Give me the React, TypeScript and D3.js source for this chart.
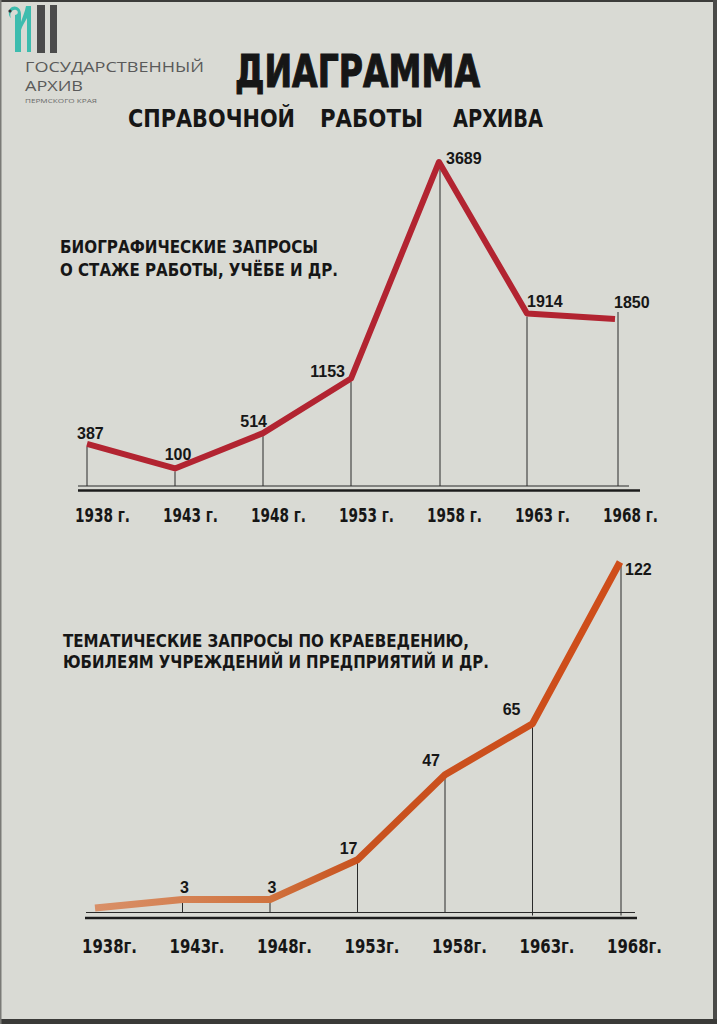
import React from "react";
import * as d3 from "d3";

// ---------- data ----------
const years = [1938, 1943, 1948, 1953, 1958, 1963, 1968];
const topTickLabels = ["1938 г.", "1943 г.", "1948 г.", "1953 г.", "1958 г.", "1963 г.", "1968 г."];
const bottomTickLabels = ["1938г.", "1943г.", "1948г.", "1953г.", "1958г.", "1963г.", "1968г."];
const biographicalRequests = [387, 100, 514, 1153, 3689, 1914, 1850];
const thematicRequests = [0, 3, 3, 17, 47, 65, 122];
const thematicLabelled = [false, true, true, true, true, true, true];

const titleText = "ДИАГРАММА";
const subtitleWords = ["СПРАВОЧНОЙ", "РАБОТЫ", "АРХИВА"];
const topCaption = ["БИОГРАФИЧЕСКИЕ ЗАПРОСЫ", "О СТАЖЕ РАБОТЫ, УЧЁБЕ И ДР."];
const bottomCaption = ["ТЕМАТИЧЕСКИЕ ЗАПРОСЫ ПО КРАЕВЕДЕНИЮ,", "ЮБИЛЕЯМ УЧРЕЖДЕНИЙ И ПРЕДПРИЯТИЙ И ДР."];

// ---------- style / layout ----------
const W = 717;
const H = 1024;
const BG = "#d9dad4";
const INK = "#161616";
const HAND = "'DejaVu Sans', 'Liberation Sans', sans-serif";
const NUM = "'Liberation Sans', 'DejaVu Sans', sans-serif";

// label placement (dx, dy, anchor) relative to each point
const topLabelPlace: [number, number, string][] = [
  [-10, -5, "start"], [3, -8, "middle"], [4, -6, "end"], [-6, -2, "end"],
  [7, 2, "start"], [0, -7, "start"], [-1, -11, "start"],
];
const bottomLabelPlace: [number, number, string][] = [
  [0, -6, "middle"], [2, -6, "middle"], [2, -6, "middle"], [0, -6, "end"],
  [-5, -9, "end"], [-12, -9, "end"], [5, 13, "start"],
];

export default function App() {
  // top chart scales
  const xTop = d3.scaleLinear().domain([1938, 1968]).range([87, 615]);
  const yTop = d3.scaleLinear().domain([0, 3689]).range([477, 162]);
  const topBase = 486;

  // bottom chart scales
  const xBot = d3.scaleLinear().domain([1938, 1968]).range([95, 620]);
  const yBot = d3.scaleLinear().domain([0, 122]).range([908, 562]);
  const botBase = 912.5;

  const topPts = years.map((y, i) => ({ year: y, v: biographicalRequests[i] }));
  const botPts = years.map((y, i) => ({ year: y, v: thematicRequests[i], lab: thematicLabelled[i] }));

  const topLine = d3
    .line<{ year: number; v: number }>()
    .x((d) => xTop(d.year))
    .y((d) => yTop(d.v))
    .curve(d3.curveLinear);
  const botLine = d3
    .line<{ year: number; v: number }>()
    .x((d) => xBot(d.year))
    .y((d) => yBot(d.v))
    .curve(d3.curveLinear);

  return (
    <svg
      width={W}
      height={H}
      viewBox={`0 0 ${W} ${H}`}
      style={{ position: "absolute", left: 0, top: 0, display: "block" }}
    >
      <defs>
        <linearGradient id="orangeGrad" gradientUnits="userSpaceOnUse" x1={xBot(1938)} y1={0} x2={xBot(1968)} y2={0}>
          <stop offset="0%" stopColor="#d99068" />
          <stop offset="33%" stopColor="#d0733f" />
          <stop offset="50%" stopColor="#c8521f" />
          <stop offset="100%" stopColor="#cf4d1a" />
        </linearGradient>
      </defs>
      <rect x={0} y={0} width={W} height={H} fill={BG} />
      {/* photo edges */}
      <rect x={0} y={0} width={W} height={2} fill="#3c3c3a" />
      <rect x={713} y={0} width={4} height={H} fill="#4a4a48" />
      <rect x={0} y={1019} width={W} height={5} fill="#3a3a38" />
      <rect x={0} y={0} width={1.5} height={H} fill="#7a7a76" />

      {/* logo */}
      <g>
        <path
          d="M11,18 C9,14 12,9 16,10 C19,11 18,15 15,15 L15,52 L21,52 L21,30 C22,26 25,22 27,18 L27,52 L31,52 L31,6 L26,6 C25,12 22,18 21,22 L21,14 C21,8 16,5 12,7 C8,9 8,16 11,18 Z"
          fill="#3dbcae"
        />
        <circle cx={10} cy={11} r={1.6} fill="#333" />
        <rect x={37} y={5} width={8} height={48} fill="#4b4b4b" />
        <rect x={50} y={5} width={7} height={48} fill="#4b4b4b" />
        <text x={25} y={72} fontFamily="'Open Sans', sans-serif" fontSize={14} fill="#5a5a5a" textLength={179} lengthAdjust="spacingAndGlyphs">
          ГОСУДАРСТВЕННЫЙ
        </text>
        <text x={25} y={91} fontFamily="'Open Sans', sans-serif" fontSize={14} fill="#5a5a5a" textLength={58} lengthAdjust="spacingAndGlyphs">
          АРХИВ
        </text>
        <text x={25} y={103} fontFamily="'Open Sans', sans-serif" fontSize={6} fill="#6a6a6a" textLength={72} lengthAdjust="spacingAndGlyphs">
          ПЕРМСКОГО КРАЯ
        </text>
      </g>

      {/* title */}
      <text x={235} y={87} fontFamily={HAND} fontWeight="bold" fontSize={44} fill={INK} stroke={INK} strokeWidth={1.2} textLength={245} lengthAdjust="spacingAndGlyphs">
        {titleText}
      </text>
      {subtitleWords.map((w, i) => {
        const xs = [128, 320, 453];
        const ls = [167, 103, 90];
        return (
          <text key={w} x={xs[i]} y={127} fontFamily={HAND} fontWeight="bold" fontSize={24} fill={INK} textLength={ls[i]} lengthAdjust="spacingAndGlyphs">
            {w}
          </text>
        );
      })}

      {/* captions */}
      <text x={60} y={253} fontFamily={HAND} fontWeight="bold" fontSize={18} fill={INK} textLength={258} lengthAdjust="spacingAndGlyphs">
        {topCaption[0]}
      </text>
      <text x={60} y={276} fontFamily={HAND} fontWeight="bold" fontSize={18} fill={INK} textLength={278} lengthAdjust="spacingAndGlyphs">
        {topCaption[1]}
      </text>
      <text x={63} y={647} fontFamily={HAND} fontWeight="bold" fontSize={18} fill={INK} textLength={406} lengthAdjust="spacingAndGlyphs">
        {bottomCaption[0]}
      </text>
      <text x={63} y={668} fontFamily={HAND} fontWeight="bold" fontSize={18} fill={INK} textLength={426} lengthAdjust="spacingAndGlyphs">
        {bottomCaption[1]}
      </text>

      {/* ---------- top chart ---------- */}
      <line x1={78} x2={629} y1={topBase} y2={topBase} stroke="#2a2a2a" strokeWidth={1.2} />
      <line x1={78} x2={640} y1={topBase + 4.5} y2={topBase + 4.5} stroke="#1c1c1c" strokeWidth={2.6} />
      {topPts.map((d, i) => (
        <line
          key={"td" + i}
          x1={xTop(d.year) + (i === 6 ? 3 : i === 4 ? 1 : 0)}
          x2={xTop(d.year) + (i === 6 ? 3 : i === 4 ? 1 : 0)}
          y1={yTop(d.v) + (i === 6 ? -7 : 3)}
          y2={topBase}
          stroke="#2a2a2a"
          strokeWidth={1}
        />
      ))}
      <path d={topLine(topPts) || ""} fill="none" stroke="#b22431" strokeWidth={6} strokeLinejoin="round" strokeLinecap="butt" />
      {topPts.map((d, i) => {
        const [dx, dy, anchor] = topLabelPlace[i];
        return (
          <text key={"tl" + i} x={xTop(d.year) + dx} y={yTop(d.v) + dy} textAnchor={anchor as any} fontFamily={NUM} fontWeight="bold" fontSize={16} fill={INK}>
            {d3.format("d")(d.v)}
          </text>
        );
      })}
      {years.map((y, i) => (
        <text key={"tt" + i} x={xTop(y) - 12} y={522} fontFamily={HAND} fontWeight="bold" fontSize={20} fill={INK} textLength={55} lengthAdjust="spacingAndGlyphs">
          {topTickLabels[i]}
        </text>
      ))}

      {/* ---------- bottom chart ---------- */}
      <line x1={86} x2={635} y1={botBase} y2={botBase} stroke="#2a2a2a" strokeWidth={1.2} />
      <line x1={85} x2={637} y1={botBase + 5.5} y2={botBase + 5.5} stroke="#1c1c1c" strokeWidth={2.6} />
      {botPts.map((d, i) =>
        d.lab ? (
          <line
            key={"bd" + i}
            x1={xBot(d.year) + (i === 6 ? 1 : 0)}
            x2={xBot(d.year) + (i === 6 ? 1 : 0)}
            y1={yBot(d.v) + 2}
            y2={botBase + (i >= 5 ? 3 : 0)}
            stroke="#2a2a2a"
            strokeWidth={1}
          />
        ) : null
      )}
      <path d={botLine(botPts) || ""} fill="none" stroke="url(#orangeGrad)" strokeWidth={7} strokeLinejoin="round" strokeLinecap="butt" />
      {botPts.map((d, i) => {
        if (!d.lab) return null;
        const [dx, dy, anchor] = bottomLabelPlace[i];
        return (
          <text key={"bl" + i} x={xBot(d.year) + dx} y={yBot(d.v) + dy} textAnchor={anchor as any} fontFamily={NUM} fontWeight="bold" fontSize={16} fill={INK}>
            {d3.format("d")(d.v)}
          </text>
        );
      })}
      {years.map((y, i) => (
        <text key={"bt" + i} x={xBot(y) - 13} y={953} fontFamily={HAND} fontWeight="bold" fontSize={20} fill={INK} textLength={55} lengthAdjust="spacingAndGlyphs">
          {bottomTickLabels[i]}
        </text>
      ))}
    </svg>
  );
}
